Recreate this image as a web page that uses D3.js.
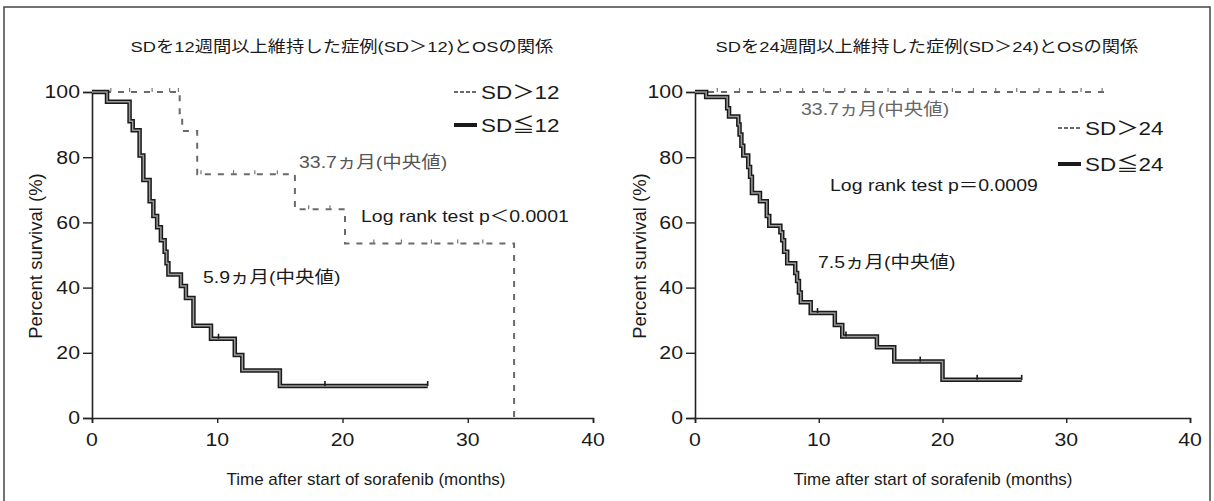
<!DOCTYPE html>
<html>
<head>
<meta charset="utf-8">
<script src="https://cdn.jsdelivr.net/npm/d3@7"></script>
<style>
body { margin: 0; background: #fff; }
svg { display: block; }
text { font-family: "Liberation Sans", "Noto Sans CJK JP", Arial, sans-serif; fill: #1a1a1a; }
</style>
</head>
<body>
<svg id="chart" width="1214" height="501"></svg>
<script>
// ---- data ----
var xTicks = [0, 10, 20, 30, 40];
var yTicks = [0, 20, 40, 60, 80, 100];

// left panel: SD > 12 weeks vs SD <= 12 weeks
var low12Times = [0, 1.2, 3.0, 3.25, 3.8, 4.1, 4.6, 4.9, 5.2, 5.5, 5.8, 5.95, 6.1, 7.1, 7.5, 8.1, 9.5, 11.4, 12.0, 15.0, 26.8];
var low12Surv  = [100, 97, 91, 88.3, 80.5, 73, 66.5, 62, 58.5, 54.5, 51, 47.5, 44, 40.5, 36.8, 28.3, 24.3, 19.3, 14.6, 9.8, 9.8];
var low12Censor = [10.1, 18.6, 26.8];
var high12Times = [0, 7.0, 7.2, 8.4, 16.2, 20.2, 33.7];
var high12Surv  = [100, 93.5, 88, 74.8, 64, 53.5, 0];
var high12Censor = [1.5, 3.0, 4.8, 6.2, 6.9, 8.7, 11.3, 13.0, 14.8, 17.3, 19.0, 22.5, 24.7, 27.1, 29.2, 31.2];

// right panel: SD > 24 weeks vs SD <= 24 weeks
var low24Times = [0, 0.9, 2.6, 2.75, 3.5, 3.6, 3.75, 3.9, 4.3, 4.45, 4.6, 5.25, 5.8, 6.0, 6.9, 7.05, 7.2, 7.45, 8.1, 8.25, 8.4, 8.55, 9.35, 11.3, 11.9, 14.7, 16.1, 20.0, 26.4];
var low24Surv  = [100, 98.5, 95, 92.5, 90, 87, 83.5, 80.5, 77, 74, 69, 66.5, 62, 59, 57, 54.5, 51, 47.5, 44.5, 42, 38.5, 35.5, 32.2, 28.5, 25, 21.7, 17.3, 11.7, 11.7];
var low24Censor = [9.9, 12.2, 18.2, 22.8, 26.4];
var high24Times = [0, 33.2];
var high24Surv  = [100, 100];
var high24Censor = [1.8, 3.6, 5.3, 6.9, 8.7, 10.4, 12.1, 13.8, 15.6, 17.2, 19.0, 20.8, 22.5, 24.3, 26.0, 27.8, 29.5, 31.2, 32.9];

var panels = [
  {
    title: "SDを12週間以上維持した症例(SD＞12)とOSの関係",
    left: 92, right: 593,
    high: { times: high12Times, surv: high12Surv, censor: high12Censor, label: "SD＞12" },
    low: { times: low12Times, surv: low12Surv, censor: low12Censor, label: "SD≦12" },
    legendX: 454, legendY: [92, 125],
    notes: [
      { text: "33.7ヵ月(中央値)", x: 299, y: 162, fill: "#555" },
      { text: "Log rank test p＜0.0001", x: 361, y: 216, fill: "#1a1a1a" },
      { text: "5.9ヵ月(中央値)", x: 203, y: 277, fill: "#1a1a1a" }
    ],
    titleX: 342, xTitleX: 366, yTitleX: 36
  },
  {
    title: "SDを24週間以上維持した症例(SD＞24)とOSの関係",
    left: 695, right: 1190,
    high: { times: high24Times, surv: high24Surv, censor: high24Censor, label: "SD＞24" },
    low: { times: low24Times, surv: low24Surv, censor: low24Censor, label: "SD≦24" },
    legendX: 1058, legendY: [128, 164],
    notes: [
      { text: "33.7ヵ月(中央値)", x: 801, y: 109, fill: "#666" },
      { text: "Log rank test p＝0.0009", x: 830, y: 185, fill: "#1a1a1a" },
      { text: "7.5ヵ月(中央値)", x: 818, y: 262, fill: "#1a1a1a" }
    ],
    titleX: 927, xTitleX: 933, yTitleX: 640
  }
];

var plotTop = 92, plotBottom = 418;
var stretch = 1.18;   // the scanned lettering is wider than Arial

var svg = d3.select("#chart");

// frame of the scanned page
svg.append("rect")
  .attr("x", 4).attr("y", 7).attr("width", 1206).attr("height", 520)
  .attr("fill", "none").attr("stroke", "#444").attr("stroke-width", 1.5);

// text widened to the look of the scan
function label(g, x, y, txt, size, anchor, fill, k) {
  var t = g.append("text")
    .attr("x", x).attr("y", y)
    .attr("text-anchor", anchor || "start")
    .attr("dy", "0.35em")
    .style("font-size", size + "px")
    .style("fill", fill || "#1a1a1a")
    .text(txt);
  var w = t.node().getComputedTextLength();
  t.attr("textLength", w * (k || stretch)).attr("lengthAdjust", "spacingAndGlyphs");
  return t;
}

function survAt(times, surv, t) {
  var i = d3.bisectRight(times, t) - 1;
  return surv[Math.max(0, i)];
}

panels.forEach(function (p) {
  var g = svg.append("g");

  var x = d3.scaleLinear().domain([0, 40]).range([p.left, p.right]);
  var y = d3.scaleLinear().domain([0, 100]).range([plotBottom, plotTop]);

  // axes
  g.append("g").attr("transform", "translate(0," + plotBottom + ")")
    .call(d3.axisBottom(x).tickValues(xTicks).tickSize(5).tickFormat(""));
  g.append("g").attr("transform", "translate(" + p.left + ",0)")
    .call(d3.axisLeft(y).tickValues(yTicks).tickSize(9).tickFormat(""));
  g.selectAll(".domain").attr("stroke", "#222").attr("stroke-width", 1.6);
  g.selectAll(".tick line").attr("stroke", "#222").attr("stroke-width", 1.4);

  xTicks.forEach(function (t) { label(g, x(t), 440, t, 18, "middle"); });
  yTicks.forEach(function (t) { label(g, p.left - 12, y(t), t, 18, "end"); });

  // titles
  label(g, p.titleX, 47, p.title, 15.5, "middle");
  label(g, p.xTitleX, 479, "Time after start of sorafenib (months)", 17, "middle", null, 1);
  g.append("text")
    .attr("x", p.yTitleX).attr("y", 256)
    .attr("transform", "rotate(-90," + p.yTitleX + ",256)")
    .attr("text-anchor", "middle").attr("dy", "0.35em")
    .style("font-size", "18.5px")
    .text("Percent survival (%)");

  var line = d3.line()
    .x(function (d) { return x(d[0]); })
    .y(function (d) { return y(d[1]); })
    .curve(d3.curveStepAfter);

  // SD > n : dashed grey curve
  var hi = d3.zip(p.high.times, p.high.surv);
  g.append("path").datum(hi)
    .attr("d", line).attr("fill", "none")
    .attr("stroke", "#6a6a6a").attr("stroke-width", 2)
    .attr("stroke-dasharray", "6,7");
  g.selectAll(".hic").data(p.high.censor).enter().append("line")
    .attr("x1", function (d) { return x(d); }).attr("x2", function (d) { return x(d); })
    .attr("y1", function (d) { return y(survAt(p.high.times, p.high.surv, d)) - 4; })
    .attr("y2", function (d) { return y(survAt(p.high.times, p.high.surv, d)); })
    .attr("stroke", "#777").attr("stroke-width", 1.2);

  // SD <= n : thick double line
  var lo = d3.zip(p.low.times, p.low.surv);
  g.append("path").datum(lo)
    .attr("d", line).attr("fill", "none")
    .attr("stroke", "#1a1a1a").attr("stroke-width", 4.5);
  g.append("path").datum(lo)
    .attr("d", line).attr("fill", "none")
    .attr("stroke", "#9a9a9a").attr("stroke-width", 1.5);
  g.selectAll(".loc").data(p.low.censor).enter().append("line")
    .attr("x1", function (d) { return x(d); }).attr("x2", function (d) { return x(d); })
    .attr("y1", function (d) { return y(survAt(p.low.times, p.low.surv, d)) - 5; })
    .attr("y2", function (d) { return y(survAt(p.low.times, p.low.surv, d)); })
    .attr("stroke", "#1a1a1a").attr("stroke-width", 1.6);

  // legend
  g.append("line")
    .attr("x1", p.legendX).attr("x2", p.legendX + 23)
    .attr("y1", p.legendY[0]).attr("y2", p.legendY[0])
    .attr("stroke", "#6a6a6a").attr("stroke-width", 2).attr("stroke-dasharray", "4,2");
  g.append("line")
    .attr("x1", p.legendX).attr("x2", p.legendX + 23)
    .attr("y1", p.legendY[1]).attr("y2", p.legendY[1])
    .attr("stroke", "#1a1a1a").attr("stroke-width", 4);
  label(g, p.legendX + 27, p.legendY[0], p.high.label, 19);
  label(g, p.legendX + 27, p.legendY[1], p.low.label, 19);

  // annotations
  p.notes.forEach(function (n) { label(g, n.x, n.y, n.text, 16.5, "start", n.fill); });
});
</script>
</body>
</html>
